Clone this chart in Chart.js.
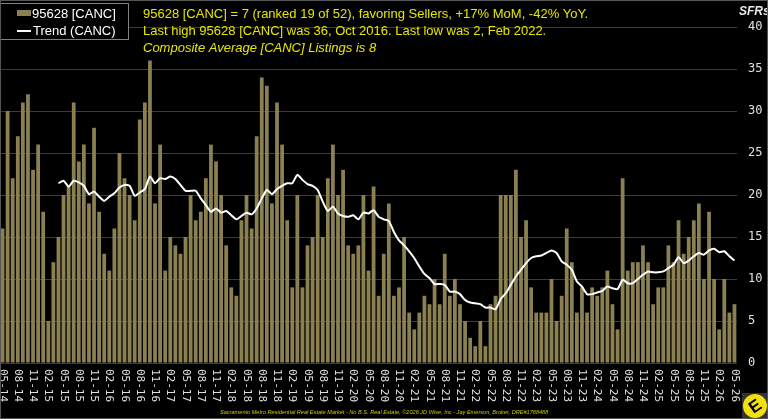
<!DOCTYPE html>
<html>
<head>
<meta charset="utf-8">
<script src="https://cdn.jsdelivr.net/npm/chart.js@4/dist/chart.umd.min.js"></script>
<style>
  html, body { margin:0; padding:0; background:#000; }
  #wrap { width:768px; height:419px; position:relative; }
</style>
</head>
<body>
<div id="wrap"><canvas id="chart"></canvas></div>
<script>
// ============================================================
//  95628 cancelled SFR listings – monthly bars + 12 mo trend
// ============================================================

const START_YEAR  = 2014;
const START_MONTH = 5;      // May 2014 .. May 2026
const MONTHS      = 145;

const canc = [
  16, 30, 22, 27, 31, 32, 23, 26, 18,  5, 12, 15,
  20, 21, 31, 24, 26, 19, 28, 18, 13, 11, 16, 25,
  22, 20, 17, 29, 31, 36, 19, 26, 11, 15, 14, 13,
  15, 20, 17, 18, 22, 26, 24, 20, 14,  9,  8, 17,
  20, 16, 27, 34, 33, 19, 31, 26, 17,  9, 20,  9,
  14, 15, 20, 15, 22, 26, 20, 23, 14, 13, 14, 20,
  11, 21,  8, 13, 19,  8,  9, 15,  6,  4,  6,  8,
   7, 10,  7, 13,  8, 10,  7,  5,  3,  2,  5,  2,
   7,  8, 20, 20, 20, 23, 15, 17,  9,  6,  6,  6,
  10,  5,  8, 16, 12,  6,  9,  6,  9,  8,  9, 11,
   7,  4, 22, 11, 12, 12, 14, 12,  7,  9,  9, 14,
  12, 17, 13, 15, 17, 19, 10, 18, 10,  4, 10,  6,
   7
];

const trend = [
  null, null, null, null, null, null, null, null, null, null, null, 21.4,
  21.7, 21.0, 21.7, 21.5, 21.1, 20.1, 20.4, 19.8, 19.3, 19.8, 20.2, 20.9,
  21.2, 21.1, 19.9, 20.3, 20.7, 22.2, 21.4, 22.0, 21.9, 22.2, 21.9, 21.2,
  20.5, 20.5, 20.5, 19.6, 18.8, 18.0, 18.4, 17.9, 18.1, 17.6, 17.1, 17.5,
  17.9, 17.7, 18.4, 19.6, 20.6, 20.1, 20.7, 21.1, 21.4, 21.4, 22.4, 21.8,
  21.3, 21.1, 20.6, 19.2, 18.1, 18.6, 17.8, 17.5, 17.4, 17.6, 17.1, 17.9,
  17.8, 18.2, 17.4, 17.1, 16.9, 15.6, 14.6, 14.0, 13.3, 12.5, 11.5, 10.6,
  10.1,  9.4,  9.4,  9.3,  8.5,  8.5,  8.2,  7.5,  7.2,  7.1,  7.0,  6.6,
   6.6,  6.4,  7.6,  8.3,  9.3, 10.3, 11.1, 11.9, 12.5, 12.7, 12.8, 13.1,
  13.4, 13.1, 12.1, 11.7, 11.1,  9.7,  9.1,  8.2,  8.2,  8.4,  8.6,  9.1,
   8.9,  8.8,  9.9,  9.5,  9.5, 10.0, 10.5, 10.9, 10.8, 10.8, 10.9, 11.3,
  11.7, 12.6, 11.9, 12.2, 12.7, 13.1, 12.9, 13.4, 13.6, 13.2, 13.3, 12.7,
  12.2
];

const titleLines = [
  '95628 [CANC] = 7 (ranked 19 of 52), favoring Sellers, +17% MoM, -42% YoY.',
  'Last high 95628 [CANC] was 36, Oct 2016. Last low was 2, Feb 2022.',
  'Composite Average [CANC] Listings is 8'
];
const footer = 'Sacramento Metro Residential Real Estate Market - No B.S. Real Estate, \u00A92026 JD Wise, Inc - Jay Emerson, Broker, DRE#1788488';

// month labels "MM-YY"
const labels = [];
for (let i = 0; i < MONTHS; i++) {
  const m = (START_MONTH - 1 + i) % 12 + 1;
  const y = START_YEAR + Math.floor((START_MONTH - 1 + i) / 12);
  labels.push(String(m).padStart(2, '0') + '-' + String(y % 100).padStart(2, '0'));
}

const BAR_COLOR = 'rgb(138,128,82)';
const YELLOW    = '#e6e600';

// ---- extras: bg, titles, legend, rotated x labels, footer, logo
const decor = {
  id: 'decor',
  beforeDraw(chart) {
    const ctx = chart.ctx;
    ctx.save();
    ctx.fillStyle = '#000';
    ctx.fillRect(0, 0, chart.width, chart.height);
    ctx.restore();
  },
  afterDraw(chart) {
    const ctx = chart.ctx;
    const xs = chart.scales.x;
    const area = chart.chartArea;
    ctx.save();

    // x tick labels, every 3rd month, rotated clockwise
    ctx.font = '11px "DejaVu Sans Mono"';
    ctx.fillStyle = '#e0e0e0';
    ctx.textAlign = 'left';
    ctx.textBaseline = 'middle';
    labels.forEach((lab, i) => {
      if (i % 3 !== 0) return;
      const x = xs.getPixelForValue(i);
      ctx.save();
      ctx.translate(x, area.bottom + 6);
      ctx.rotate(Math.PI / 2);
      ctx.fillText(lab, 0, 0);
      ctx.restore();
    });

    // y title
    ctx.font = 'italic bold 12px "Liberation Sans"';
    ctx.fillStyle = '#e8e8e8';
    ctx.textAlign = 'left';
    ctx.fillText('SFRs', 739, 12);

    // title lines
    ctx.fillStyle = YELLOW;
    ctx.textBaseline = 'middle';
    ctx.font = '13px "Liberation Sans"';
    ctx.fillText(titleLines[0], 143, 14);
    ctx.fillText(titleLines[1], 143, 31);
    ctx.font = 'italic 13px "Liberation Sans"';
    ctx.fillText(titleLines[2], 143, 48);

    // legend box
    ctx.fillStyle = '#000';
    ctx.fillRect(0, 3, 128, 37);
    ctx.strokeStyle = '#808080';
    ctx.lineWidth = 1;
    ctx.strokeRect(0.5, 3.5, 128, 36);
    ctx.fillStyle = BAR_COLOR;
    ctx.fillRect(17, 10, 14, 6);
    ctx.strokeStyle = '#fff';
    ctx.lineWidth = 2;
    ctx.beginPath();
    ctx.moveTo(17, 31);
    ctx.lineTo(31, 31);
    ctx.stroke();
    ctx.fillStyle = '#fff';
    ctx.font = '13px "Liberation Sans"';
    ctx.fillText(chart.data.datasets[1].label, 32, 14);
    ctx.fillText(chart.data.datasets[0].label, 33, 31);

    // footer
    ctx.fillStyle = '#c8c800';
    ctx.font = 'italic 5.6px "Liberation Sans"';
    ctx.fillText(footer, 220, 412);

    // logo
    ctx.fillStyle = '#333';
    ctx.fillRect(742, 393, 26, 26);
    ctx.beginPath();
    ctx.arc(755, 406, 12, 0, Math.PI * 2);
    ctx.fillStyle = '#f0e010';
    ctx.fill();
    ctx.translate(755, 406);
    ctx.rotate(-0.6);
    ctx.fillStyle = '#000';
    ctx.font = 'bold 17px "Liberation Sans"';
    ctx.textAlign = 'center';
    ctx.fillText('E', 0, 1);
    ctx.restore();

    // frame
    ctx.save();
    ctx.strokeStyle = '#555';
    ctx.lineWidth = 1;
    ctx.strokeRect(0.5, 0.5, chart.width - 1, chart.height - 1);
    ctx.restore();
  }
};

new Chart(document.getElementById('chart'), {
  type: 'bar',
  data: {
    labels: labels,
    datasets: [{
      type: 'line',
      label: 'Trend (CANC)',
      data: trend,
      borderColor: '#ffffff',
      borderWidth: 2,
      pointRadius: 0,
      tension: 0.2,
      order: 1
    }, {
      label: '95628 [CANC]',
      data: canc,
      backgroundColor: BAR_COLOR,
      categoryPercentage: 1.0,
      barPercentage: 0.74,
      order: 2
    }]
  },
  options: {
    responsive: true,
    maintainAspectRatio: false,
    animation: false,
    layout: { padding: { top: 27, left: 0, right: 0, bottom: 0 } },
    plugins: { legend: { display: false }, tooltip: { enabled: false } },
    scales: {
      x: {
        ticks: { display: false },
        grid: { display: false },
        border: { display: false },
        afterFit: s => { s.height = 56; }
      },
      y: {
        position: 'right',
        min: 0, max: 40,
        ticks: { stepSize: 5, color: '#e0e0e0', padding: 11, font: { family: 'DejaVu Sans Mono', size: 12 } },
        grid: { color: '#3c3c3c', drawTicks: false },
        border: { display: false },
        afterFit: s => { s.width = 31; }
      }
    }
  },
  plugins: [decor]
});
</script>
</body>
</html>
